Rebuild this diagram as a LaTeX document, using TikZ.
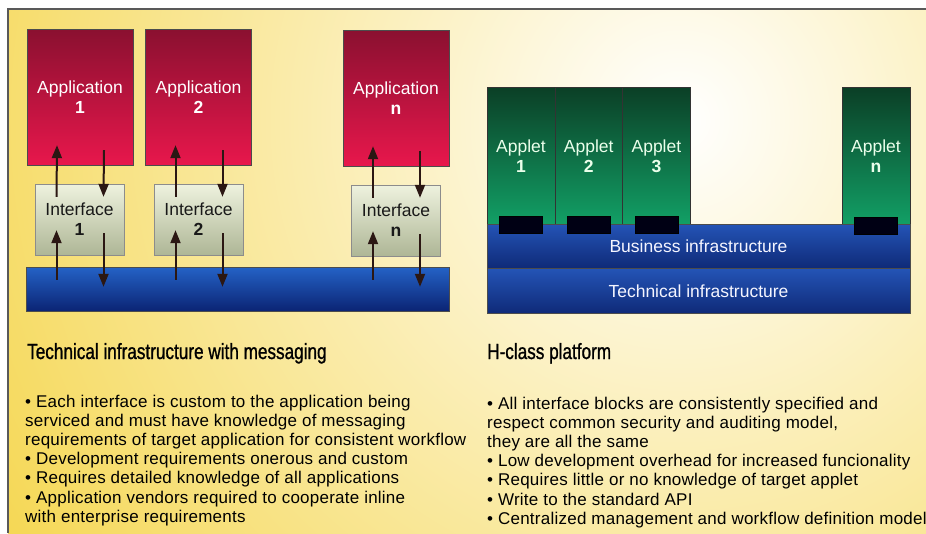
\documentclass[tikz,border=0pt]{standalone}
\usepackage{fontspec}
\setmainfont{Liberation Sans}[LetterSpace=1.4]
\newfontfamily\condfont[FakeStretch=0.78,FakeBold=1]{Liberation Sans}
\newfontfamily\boxfont{Liberation Sans}
\usepackage{tikz}
\usetikzlibrary{arrows.meta,positioning,calc}
\definecolor{bgyellow}{HTML}{F4D341}
\definecolor{appdark}{HTML}{8A1030}
\definecolor{applight}{HTML}{E8174C}
\definecolor{ifpale}{HTML}{EEF2DE}
\definecolor{ifgrey}{HTML}{AEB696}
\definecolor{busblue}{HTML}{2462C6}
\definecolor{busnavy}{HTML}{0B2474}
\definecolor{apltop}{HTML}{0B3F26}
\definecolor{aplbot}{HTML}{12A066}
\definecolor{infblue}{HTML}{2454B6}
\definecolor{infnavy}{HTML}{0F2A78}
\definecolor{flowdark}{HTML}{2B1713}
\tikzset{
	appbox/.style={draw=black!70, top color=appdark, bottom color=applight,
		text=white, align=center, inner sep=0pt,
		minimum width=106pt, minimum height=136pt,
		font=\boxfont\fontsize{17.5}{20}\selectfont},
	ifbox/.style={draw=black!45, top color=ifpale, bottom color=ifgrey,
		text=black!90, align=center, inner sep=0pt,
		minimum width=89pt, minimum height=71pt,
		font=\boxfont\fontsize{17.5}{20}\selectfont},
	flow/.style={-{Triangle[length=13pt,width=10pt]}, line width=2pt, draw=flowdark},
	title/.style={font=\condfont\fontsize{22}{24}\selectfont, inner sep=0pt},
	bullets/.style={font=\fontsize{17}{19.2}\selectfont, align=left, inner sep=0pt}
}

\begin{document}
\begin{tikzpicture}[
		x=1pt, y=-1pt,
		aplbox/.style={draw=black!80, top color=apltop, bottom color=aplbot,
			text=green!8, align=center, inner sep=0pt, outer sep=0pt,
			minimum width=67.7pt, minimum height=138pt,
			font=\boxfont\fontsize{17.5}{20}\selectfont},
		infbar/.style={draw=black!70, top color=infblue, bottom color=infnavy,
			text=blue!4, inner sep=0pt, minimum width=423pt,
			font=\boxfont\fontsize{17.5}{20}\selectfont},
		port/.style={fill=black!92!blue, draw=black, inner sep=0pt,
			minimum width=43pt, minimum height=17pt},
		]
	\useasboundingbox (0,0) rectangle (926,533);
	
	%% ── Background and frame ────────────────────────────────────────
	\fill[bgyellow] (8,9) rectangle (926,533);
	\begin{scope}
		\clip (8,9) rectangle (926,533);
		\shade[inner color=white, outer color=bgyellow] (680,120) circle (880pt);
	\end{scope}
	\draw[black!65, line width=1.2pt] (8,533) -- (8,9) -- (926,9);
	
	%% ── Left: applications ──────────────────────────────────────────
	\node[appbox] (app1) at (80,97) {Application\\\textbf{1}};
	\node[appbox] (app2) at (198.5,97) {Application\\\textbf{2}};
	\node[appbox] (appn) at (396,98) {Application\\\textbf{n}};
	
	%% ── Left: interfaces ────────────────────────────────────────────
	\node[ifbox] (if1) at (79.5,219.5) {Interface\\\textbf{1}};
	\node[ifbox] (if2) at (198.5,219.5) {Interface\\\textbf{2}};
	\node[ifbox] (ifn) at (396,220.5) {Interface\\\textbf{n}};
	
	%% ── Left: messaging bar ─────────────────────────────────────────
	\node[draw=black!70, top color=busblue, bottom color=busnavy,
	minimum width=423pt, minimum height=44pt, inner sep=0pt] (bus) at (237.5,289) {};
	
	%% ── Left: message flow ──────────────────────────────────────────
	\foreach \c in {1,2,n} {
		\draw[flow] ($(if\c.north)+(-23,13)$) -- ($(app\c.south)+(-23,-20)$);
		\draw[flow] ($(app\c.south)+(24,-15)$) -- ($(if\c.north)+(24,13)$);
		\draw[flow] ($(if\c.south |- bus.north)+(-23,13)$) -- ($(if\c.south)+(-23,-25)$);
		\draw[flow] ($(if\c.south)+(24,-22)$) -- ($(if\c.south |- bus.north)+(24,20)$);
	}
	
	%% ── Right: applets ──────────────────────────────────────────────
	\node[aplbox] (apl1) at (521,156) {Applet\\\textbf{1}};
	\node[aplbox, right=0pt of apl1] (apl2) {Applet\\\textbf{2}};
	\node[aplbox, right=0pt of apl2] (apl3) {Applet\\\textbf{3}};
	\node[aplbox] (apln) at (876,156.5) {Applet\\\textbf{n}};
	
	%% ── Right: infrastructure layers ────────────────────────────────
	\node[infbar, minimum height=44pt] (busi) at (698.5,246) {Business infrastructure};
	\node[infbar, minimum height=45pt, below=0pt of busi] (tech) {Technical infrastructure};
	
	% interface blocks sitting on the business layer
	\node[port] (port1) at (apl1.south) {};
	\node[port] (port2) at (apl2.south) {};
	\node[port] (port3) at (apl3.south) {};
	\node[port] (portn) at (apln.south) {};
	
	%% ── Captions ────────────────────────────────────────────────────
	\node[title, anchor=base west] (ttll) at (27,359) {Technical infrastructure with messaging};
	\node[title, anchor=base west] (ttlr) at (487,359) {H-class platform};
	
	\node[bullets, anchor=north west] (txtl) at (25,394.5)
	{• Each interface is custom to the application being\\
		serviced and must have knowledge of messaging\\
		requirements of target application for consistent workflow\\
		• Development requirements onerous and custom\\
		• Requires detailed knowledge of all applications\\
		• Application vendors required to cooperate inline\\
		with enterprise requirements};
	
	\node[bullets, anchor=north west] (txtr) at (487,396.5)
	{• All interface blocks are consistently specified and\\
		respect common security and auditing model,\\
		they are all the same\\
		• Low development overhead for increased funcionality\\
		• Requires little or no knowledge of target applet\\
		• Write to the standard API\\
		• Centralized management and workflow definition model};
\end{tikzpicture}
\end{document}
